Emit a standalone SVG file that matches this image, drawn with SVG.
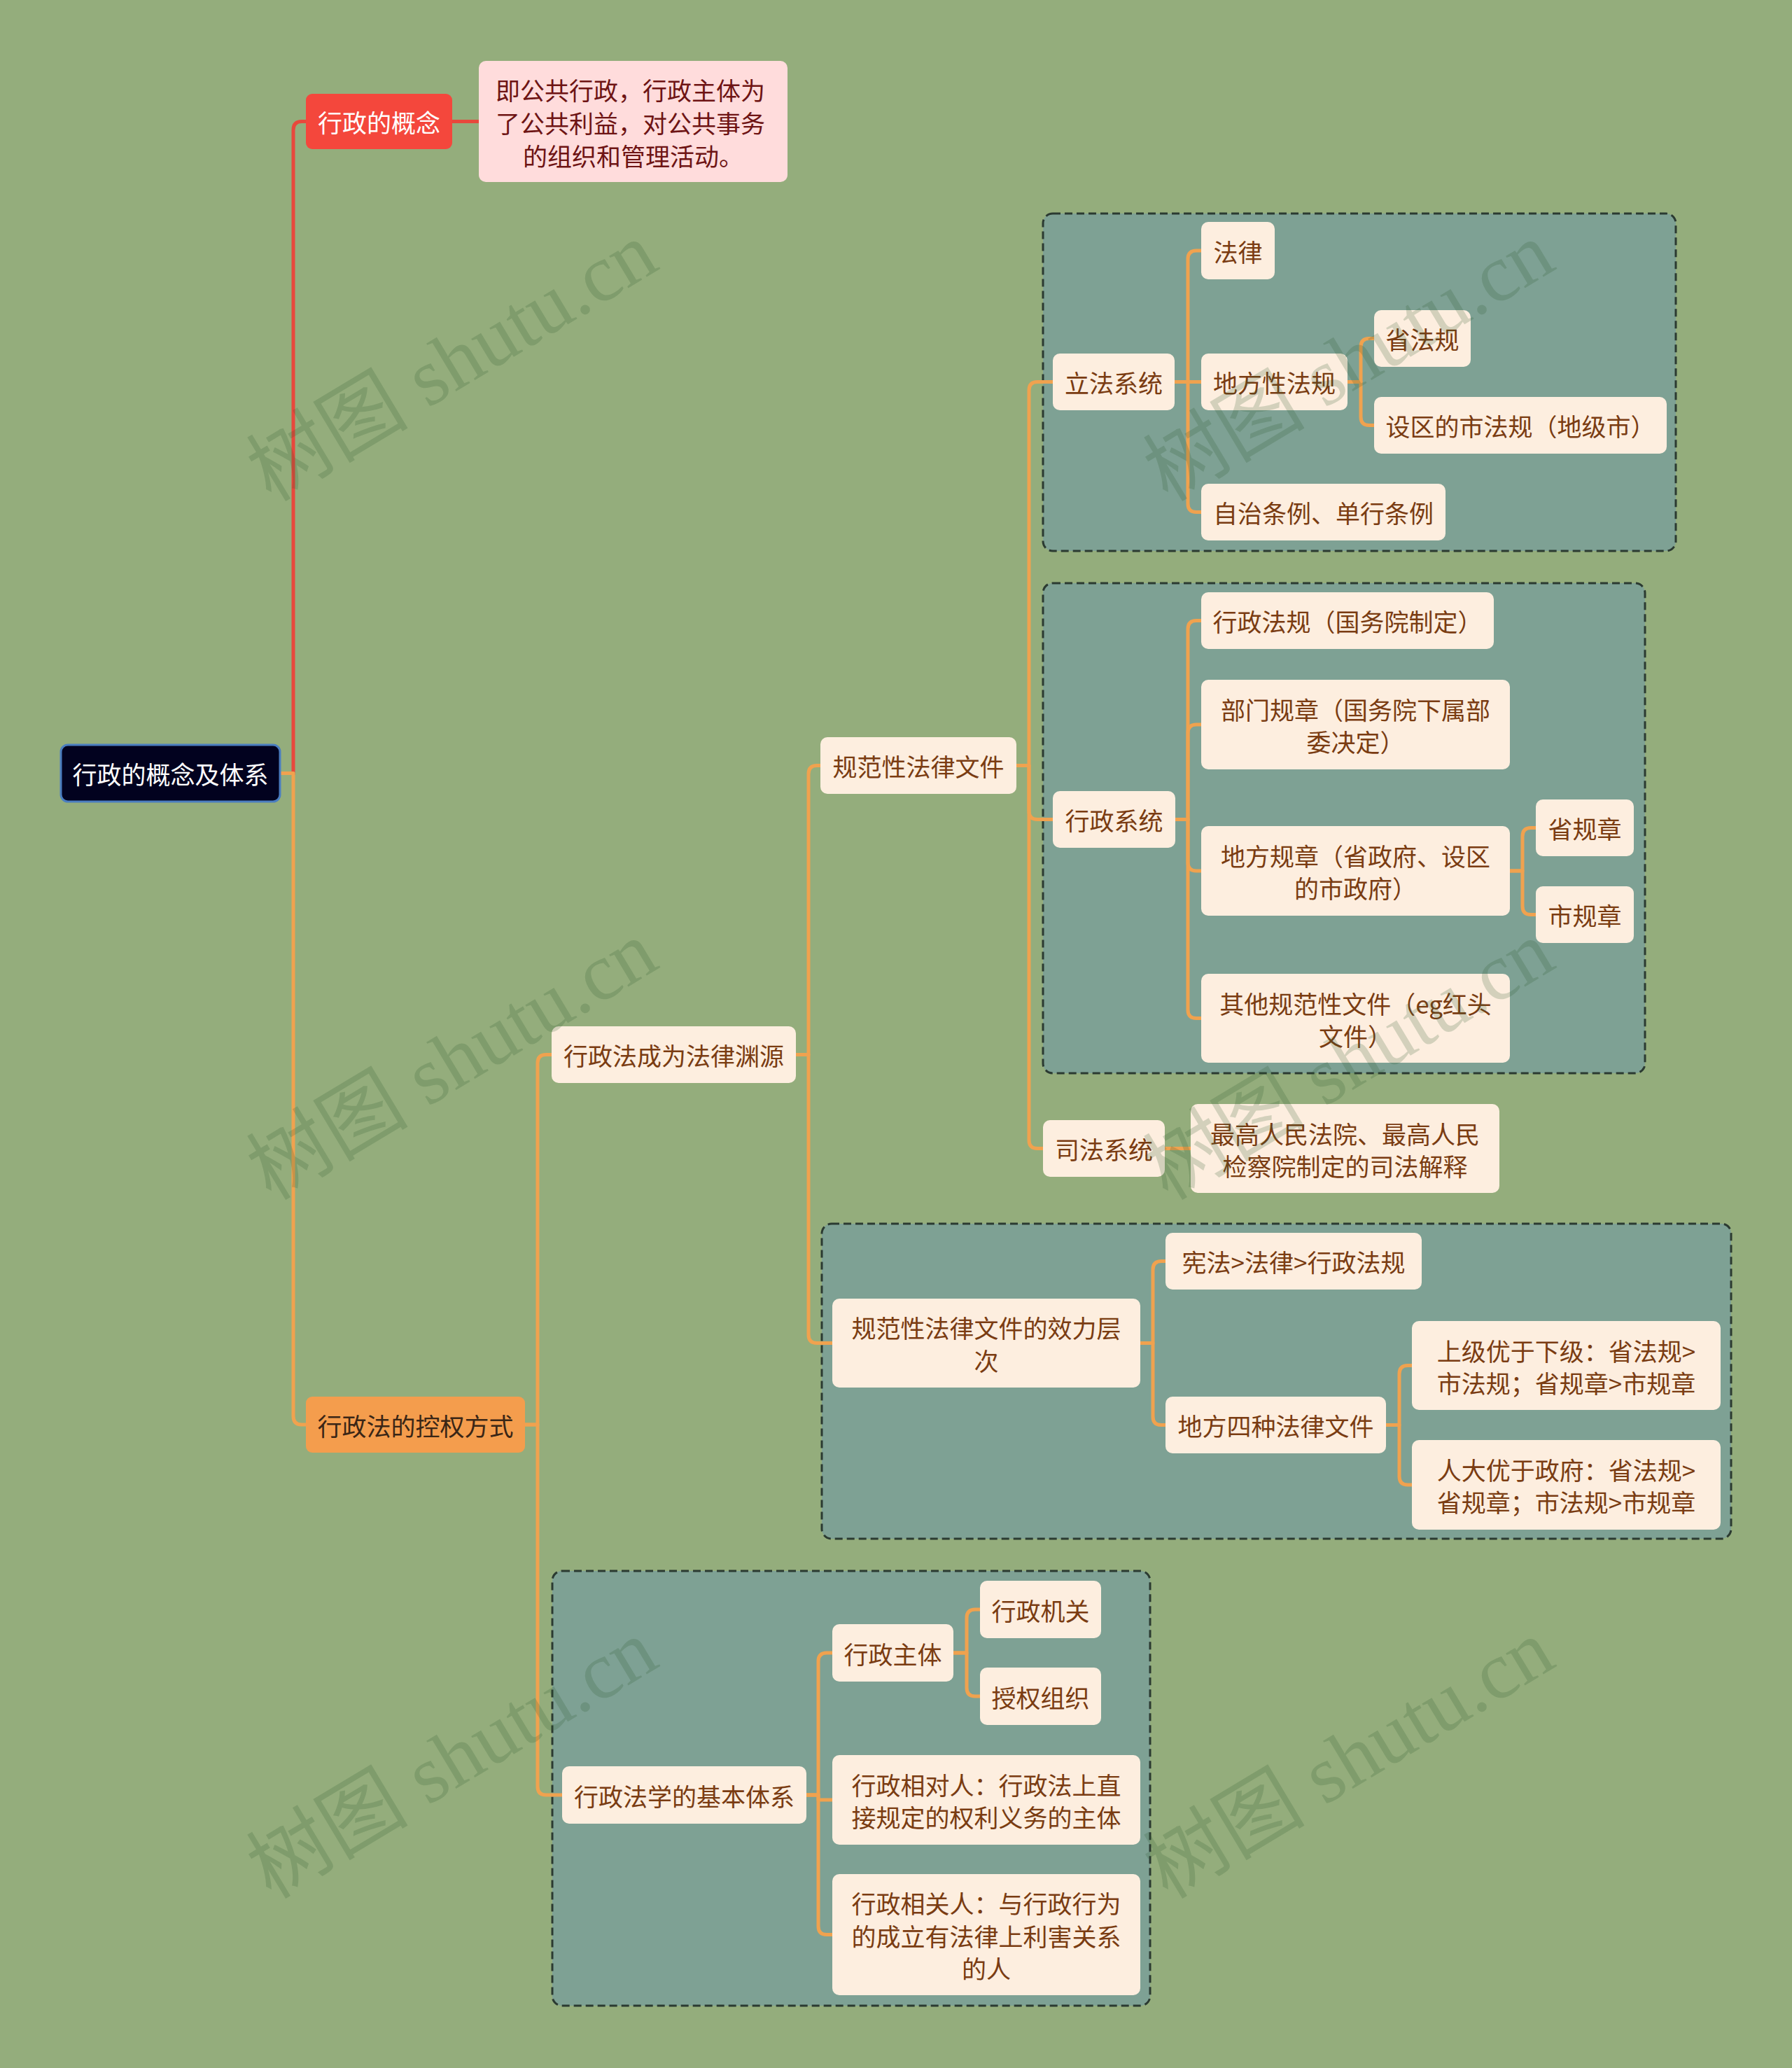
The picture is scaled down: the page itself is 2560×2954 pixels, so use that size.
<svg xmlns="http://www.w3.org/2000/svg" width="2560" height="2954" viewBox="0 0 2560 2954">
<style>
.grp{fill:#7ea194;stroke:#2b3a31;stroke-width:3;stroke-dasharray:11 6}
.nd rect{fill:#fdeedf}
.nd text{fill:#7a3c12;font-family:"Noto Sans CJK SC","Noto Sans",sans-serif;font-size:35px;text-anchor:middle;dominant-baseline:central}
.c{fill:none;stroke:#f0a24f;stroke-width:5;stroke-linecap:round;stroke-linejoin:round}
.cr{fill:none;stroke:#e8483c;stroke-width:5;stroke-linecap:round}
.wm{fill:#2e5a2e;fill-opacity:0.2;font-family:"Liberation Serif","Noto Sans CJK SC",serif;font-size:116px;text-anchor:middle;dominant-baseline:central}
</style>
<rect width="2560" height="2954" fill="#94ad7c"/>

<g id="groups">
<rect id="group-lifa" class="grp" x="1490" y="305" width="904" height="482" rx="14"/>
<rect id="group-xingzheng" class="grp" x="1490" y="833" width="860" height="700" rx="14"/>
<rect id="group-xiaoli" class="grp" x="1174" y="1748" width="1299" height="450" rx="14"/>
<rect id="group-tixi" class="grp" x="789" y="2244" width="854" height="621" rx="14"/>
</g>

<g id="connectors">
<path class="cr" d="M400 1104.5 H419 V185.5 Q419 173.5 431 173.5 H437"/>
<path class="cr" d="M646 173.5 H684"/>
<path class="c" d="M400 1104.5 H419 V2023 Q419 2035 431 2035 H437"/>
<path class="c" d="M750 2035 H768 V1518.5 Q768 1506.5 780 1506.5 H788"/>
<path class="c" d="M750 2035 H768 V2552 Q768 2564 780 2564 H803"/>
<path class="c" d="M1137 1506.5 H1155 V1105.5 Q1155 1093.5 1167 1093.5 H1172"/>
<path class="c" d="M1137 1506.5 H1155 V1906.5 Q1155 1918.5 1167 1918.5 H1189"/>
<path class="c" d="M1452 1093.5 H1470 V557.5 Q1470 545.5 1482 545.5 H1504"/>
<path class="c" d="M1452 1093.5 H1470 V1158.5 Q1470 1170.5 1482 1170.5 H1504"/>
<path class="c" d="M1452 1093.5 H1470 V1628.5 Q1470 1640.5 1482 1640.5 H1490"/>
<path class="c" d="M1678 545.5 H1697 V370 Q1697 358 1709 358 H1716"/>
<path class="c" d="M1678 545.5 H1716"/>
<path class="c" d="M1678 545.5 H1697 V719.5 Q1697 731.5 1709 731.5 H1716"/>
<path class="c" d="M1925 545.5 H1944 V495.5 Q1944 483.5 1956 483.5 H1963"/>
<path class="c" d="M1925 545.5 H1944 V595.5 Q1944 607.5 1956 607.5 H1963"/>
<path class="c" d="M1679 1170.5 H1697 V898.5 Q1697 886.5 1709 886.5 H1716"/>
<path class="c" d="M1679 1170.5 H1697 V1047 Q1697 1035 1709 1035 H1716"/>
<path class="c" d="M1679 1170.5 H1697 V1232 Q1697 1244 1709 1244 H1716"/>
<path class="c" d="M1679 1170.5 H1697 V1442.5 Q1697 1454.5 1709 1454.5 H1716"/>
<path class="c" d="M2157 1244 H2175 V1194.5 Q2175 1182.5 2187 1182.5 H2194"/>
<path class="c" d="M2157 1244 H2175 V1294.5 Q2175 1306.5 2187 1306.5 H2194"/>
<path class="c" d="M1664 1640.5 H1701"/>
<path class="c" d="M1629 1918.5 H1647 V1813.5 Q1647 1801.5 1659 1801.5 H1665"/>
<path class="c" d="M1629 1918.5 H1647 V2023.5 Q1647 2035.5 1659 2035.5 H1665"/>
<path class="c" d="M1980 2035.5 H1999 V1962.5 Q1999 1950.5 2011 1950.5 H2017"/>
<path class="c" d="M1980 2035.5 H1999 V2109 Q1999 2121 2011 2121 H2017"/>
<path class="c" d="M1152 2564 H1169 V2373 Q1169 2361 1181 2361 H1189"/>
<path class="c" d="M1152 2564 H1169 V2571 H1189"/>
<path class="c" d="M1152 2564 H1169 V2751.5 Q1169 2763.5 1181 2763.5 H1189"/>
<path class="c" d="M1362 2361 H1381 V2311 Q1381 2299 1393 2299 H1400"/>
<path class="c" d="M1362 2361 H1381 V2411 Q1381 2423 1393 2423 H1400"/>
</g>

<g id="root">
<rect x="87" y="1064" width="313" height="81" rx="10" fill="#02021f" stroke="#4a7dc0" stroke-width="3"/>
<text x="243.5" y="1104.5" fill="#ffffff" font-family="Noto Sans CJK SC, sans-serif" font-size="35" text-anchor="middle" dominant-baseline="central">行政的概念及体系</text>
</g>

<g id="n-gainian">
<rect x="437" y="134" width="209" height="79" rx="9" fill="#f4473c"/>
<text x="541.5" y="173.5" fill="#ffffff" font-family="Noto Sans CJK SC, sans-serif" font-size="35" text-anchor="middle" dominant-baseline="central">行政的概念</text>
</g>

<g id="n-desc">
<rect x="684" y="87" width="441" height="173" rx="10" fill="#ffdcdc"/>
<text fill="#6e1414" font-family="Noto Sans CJK SC, sans-serif" font-size="35" text-anchor="middle" dominant-baseline="central">
<tspan x="904.5" y="126.5">即公共行政，行政主体为</tspan>
<tspan x="904.5" y="173.5">了公共利益，对公共事务</tspan>
<tspan x="904.5" y="220.5">的组织和管理活动。</tspan>
</text>
</g>

<g id="n-kongquan">
<rect x="437" y="1995" width="313" height="80" rx="9" fill="#f49d4d"/>
<text x="593.5" y="2035" fill="#3a2616" font-family="Noto Sans CJK SC, sans-serif" font-size="35" text-anchor="middle" dominant-baseline="central">行政法的控权方式</text>
</g>

<g id="n-yuanyuan" class="nd"><rect x="788" y="1466" width="349" height="81" rx="10"/><text x="962.5" y="1506.5">行政法成为法律渊源</text></g>
<g id="n-guifan" class="nd"><rect x="1172" y="1053" width="280" height="81" rx="10"/><text x="1312" y="1093.5">规范性法律文件</text></g>

<g id="n-lifa" class="nd"><rect x="1504" y="505" width="174" height="81" rx="10"/><text x="1591" y="545.5">立法系统</text></g>
<g id="n-falv" class="nd"><rect x="1716" y="317" width="105" height="82" rx="10"/><text x="1768.5" y="358">法律</text></g>
<g id="n-difangxing" class="nd"><rect x="1716" y="505" width="209" height="81" rx="10"/><text x="1820.5" y="545.5">地方性法规</text></g>
<g id="n-shengfagui" class="nd"><rect x="1963" y="443" width="138" height="81" rx="10"/><text x="2032" y="483.5">省法规</text></g>
<g id="n-shiqu" class="nd"><rect x="1963" y="567" width="418" height="81" rx="10"/><text x="2172" y="607.5">设区的市法规（地级市）</text></g>
<g id="n-zizhi" class="nd"><rect x="1716" y="691" width="349" height="81" rx="10"/><text x="1890.5" y="731.5">自治条例、单行条例</text></g>

<g id="n-xingzheng" class="nd"><rect x="1504" y="1130" width="175" height="81" rx="10"/><text x="1591.5" y="1170.5">行政系统</text></g>
<g id="n-xzfg" class="nd"><rect x="1716" y="846" width="418" height="81" rx="10"/><text x="1925" y="886.5">行政法规（国务院制定）</text></g>
<g id="n-bumen" class="nd"><rect x="1716" y="971" width="441" height="128" rx="10"/><text><tspan x="1936.5" y="1012">部门规章（国务院下属部</tspan><tspan x="1936.5" y="1058">委决定）</tspan></text></g>
<g id="n-difangguizhang" class="nd"><rect x="1716" y="1180" width="441" height="128" rx="10"/><text><tspan x="1936.5" y="1221">地方规章（省政府、设区</tspan><tspan x="1936.5" y="1267">的市政府）</tspan></text></g>
<g id="n-shengguizhang" class="nd"><rect x="2194" y="1142" width="140" height="81" rx="10"/><text x="2264" y="1182.5">省规章</text></g>
<g id="n-shiguizhang" class="nd"><rect x="2194" y="1266" width="140" height="81" rx="10"/><text x="2264" y="1306.5">市规章</text></g>
<g id="n-qita" class="nd"><rect x="1716" y="1391" width="441" height="127" rx="10"/><text><tspan x="1936.5" y="1431.5">其他规范性文件（eg红头</tspan><tspan x="1936.5" y="1477.5">文件）</tspan></text></g>

<g id="n-sifa" class="nd"><rect x="1490" y="1600" width="174" height="81" rx="10"/><text x="1577" y="1640.5">司法系统</text></g>
<g id="n-jieshi" class="nd"><rect x="1701" y="1577" width="441" height="127" rx="10"/><text><tspan x="1921.5" y="1617.5">最高人民法院、最高人民</tspan><tspan x="1921.5" y="1663.5">检察院制定的司法解释</tspan></text></g>

<g id="n-xiaoli" class="nd"><rect x="1189" y="1855" width="440" height="127" rx="10"/><text><tspan x="1409" y="1895">规范性法律文件的效力层</tspan><tspan x="1409" y="1942">次</tspan></text></g>
<g id="n-xianfa" class="nd"><rect x="1665" y="1761" width="366" height="81" rx="10"/><text x="1848" y="1801.5">宪法&gt;法律&gt;行政法规</text></g>
<g id="n-sizhong" class="nd"><rect x="1665" y="1995" width="315" height="81" rx="10"/><text x="1822.5" y="2035.5">地方四种法律文件</text></g>
<g id="n-shangji" class="nd"><rect x="2017" y="1887" width="441" height="127" rx="10"/><text><tspan x="2237.5" y="1927.5">上级优于下级：省法规&gt;</tspan><tspan x="2237.5" y="1973.5">市法规；省规章&gt;市规章</tspan></text></g>
<g id="n-renda" class="nd"><rect x="2017" y="2057" width="441" height="128" rx="10"/><text><tspan x="2237.5" y="2098">人大优于政府：省法规&gt;</tspan><tspan x="2237.5" y="2144">省规章；市法规&gt;市规章</tspan></text></g>

<g id="n-tixi" class="nd"><rect x="803" y="2523" width="349" height="82" rx="10"/><text x="977.5" y="2564">行政法学的基本体系</text></g>
<g id="n-zhuti" class="nd"><rect x="1189" y="2320" width="173" height="82" rx="10"/><text x="1275.5" y="2361">行政主体</text></g>
<g id="n-jiguan" class="nd"><rect x="1400" y="2258" width="173" height="82" rx="10"/><text x="1486.5" y="2299">行政机关</text></g>
<g id="n-shouquan" class="nd"><rect x="1400" y="2382" width="173" height="82" rx="10"/><text x="1486.5" y="2423">授权组织</text></g>
<g id="n-xiangduiren" class="nd"><rect x="1189" y="2507" width="440" height="128" rx="10"/><text><tspan x="1409" y="2548">行政相对人：行政法上直</tspan><tspan x="1409" y="2594">接规定的权利义务的主体</tspan></text></g>
<g id="n-xiangguanren" class="nd"><rect x="1189" y="2677" width="440" height="173" rx="10"/><text><tspan x="1409" y="2717">行政相关人：与行政行为</tspan><tspan x="1409" y="2763.5">的成立有法律上利害关系</tspan><tspan x="1409" y="2810">的人</tspan></text></g>

<g id="watermarks">
<text class="wm" x="646" y="517" transform="rotate(-31 646 517)">树图 shutu.cn</text>
<text class="wm" x="646" y="1515" transform="rotate(-31 646 1515)">树图 shutu.cn</text>
<text class="wm" x="646" y="2513" transform="rotate(-31 646 2513)">树图 shutu.cn</text>
<text class="wm" x="1927" y="517" transform="rotate(-31 1927 517)">树图 shutu.cn</text>
<text class="wm" x="1927" y="1515" transform="rotate(-31 1927 1515)">树图 shutu.cn</text>
<text class="wm" x="1927" y="2513" transform="rotate(-31 1927 2513)">树图 shutu.cn</text>
</g>
</svg>
